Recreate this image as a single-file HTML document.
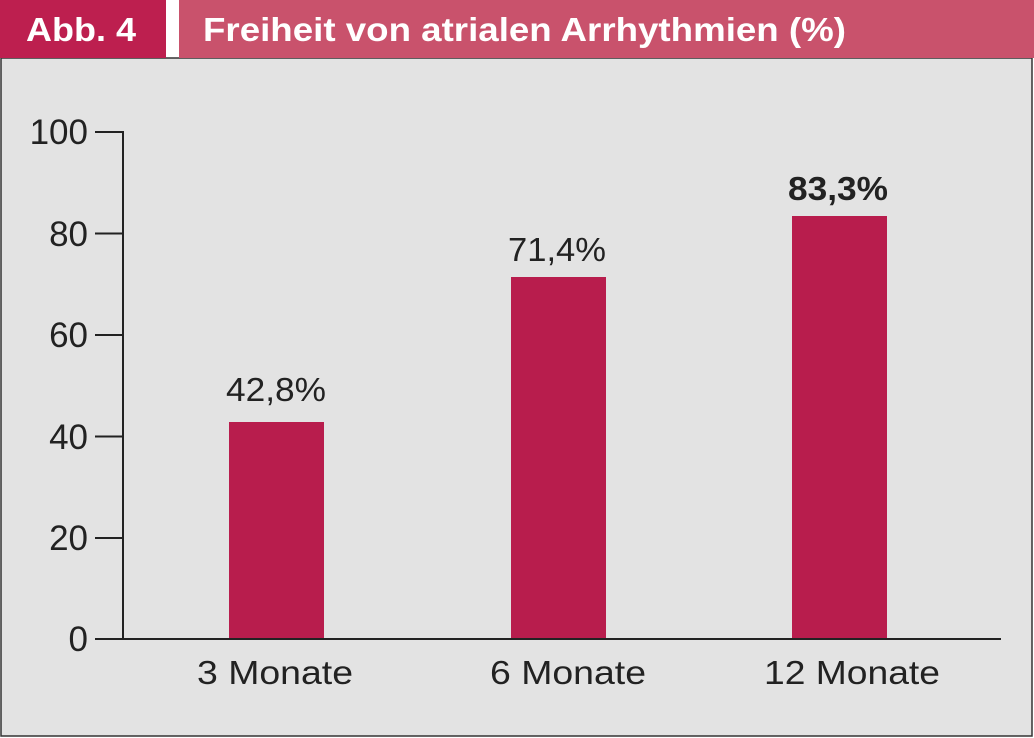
<!DOCTYPE html>
<html><head><meta charset="utf-8"><style>
body{margin:0;background:#fff;}
svg{display:block;font-family:"Liberation Sans",sans-serif;}
</style></head><body>
<svg width="1034" height="738" viewBox="0 0 1034 738">
<rect x="0" y="0" width="1034" height="738" fill="#fff"/>
<rect x="1" y="58" width="1031" height="678" fill="#e3e3e3" stroke="#333" stroke-width="1.5"/>
<rect x="0" y="0" width="166" height="58" fill="#bd1f4f"/>
<rect x="179" y="0" width="855" height="58" fill="#c9526c"/>
<text x="26" y="41" font-size="33" font-weight="bold" fill="#fff" textLength="110" lengthAdjust="spacingAndGlyphs">Abb. 4</text>
<text x="203" y="41" font-size="33" font-weight="bold" fill="#fff" textLength="643" lengthAdjust="spacingAndGlyphs">Freiheit von atrialen Arrhythmien (%)</text>
<g stroke="#222" stroke-width="2" fill="none">
<path d="M95 132H123V639"/>
<path d="M95 233.5H123M95 335H123M95 436.5H123M95 538H123M95 639H1001"/>
</g>
<g font-size="35" fill="#222" text-anchor="end">
<text x="88" y="144">100</text>
<text x="88" y="246">80</text>
<text x="88" y="347">60</text>
<text x="88" y="449">40</text>
<text x="88" y="550">20</text>
<text x="88" y="651">0</text>
</g>
<g fill="#b81d4d">
<rect x="229" y="422" width="95" height="216"/>
<rect x="511" y="277" width="95" height="361"/>
<rect x="792" y="216" width="95" height="422"/>
</g>
<g font-size="33" fill="#222">
<text x="226" y="401" textLength="100" lengthAdjust="spacingAndGlyphs">42,8%</text>
<text x="508" y="261" textLength="98" lengthAdjust="spacingAndGlyphs">71,4%</text>
<text x="788" y="200" font-weight="bold" textLength="100" lengthAdjust="spacingAndGlyphs">83,3%</text>
<text x="197" y="684" textLength="156" lengthAdjust="spacingAndGlyphs">3 Monate</text>
<text x="490" y="684" textLength="156" lengthAdjust="spacingAndGlyphs">6 Monate</text>
<text x="764" y="684" textLength="176" lengthAdjust="spacingAndGlyphs">12 Monate</text>
</g>
</svg>
</body></html>
